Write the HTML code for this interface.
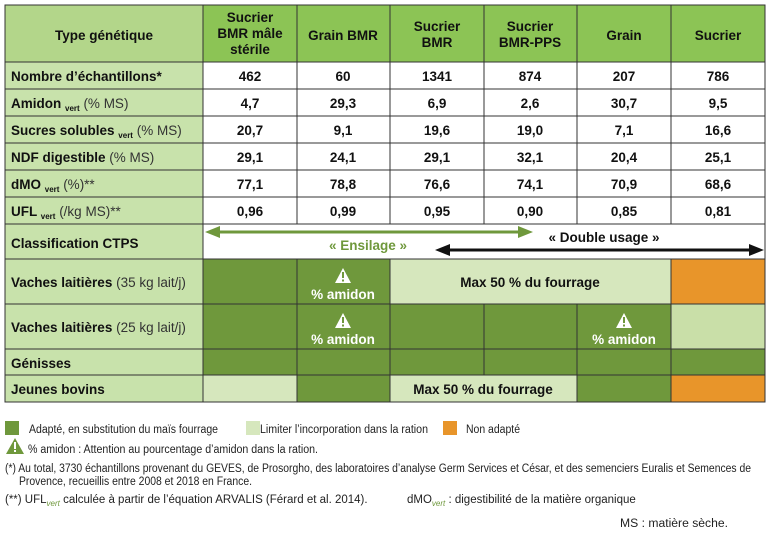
<!DOCTYPE html>
<html><head><meta charset="utf-8"><style>
body{margin:0;background:#fff;}
svg text{font-family:"Liberation Sans",sans-serif;}
.b{font-weight:bold;font-size:13.5px;fill:#111;}
.c{text-anchor:middle;}
.s{font-size:11.5px;fill:#222;}
</style></head><body>
<svg width="780" height="534" viewBox="0 0 780 534" xmlns="http://www.w3.org/2000/svg">
<rect x="5" y="5" width="198" height="57" fill="#b3d68a"/>
<rect x="203" y="5" width="562" height="57" fill="#8cc455"/>
<rect x="5" y="62" width="198" height="340" fill="#c8e2ab"/>
<rect x="203" y="62" width="562" height="197" fill="#fff"/>
<rect x="203" y="259" width="187" height="45" fill="#6f983c"/>
<rect x="390" y="259" width="281" height="45" fill="#d6e7bd"/>
<rect x="671" y="259" width="94" height="45" fill="#e8952a"/>
<rect x="203" y="304" width="468" height="45" fill="#6f983c"/>
<rect x="671" y="304" width="94" height="45" fill="#c9dfa8"/>
<rect x="203" y="349" width="562" height="26" fill="#6f983c"/>
<rect x="203" y="375" width="94" height="27" fill="#d6e7bd"/>
<rect x="297" y="375" width="93" height="27" fill="#6f983c"/>
<rect x="390" y="375" width="187" height="27" fill="#d6e7bd"/>
<rect x="577" y="375" width="94" height="27" fill="#6f983c"/>
<rect x="671" y="375" width="94" height="27" fill="#e8952a"/>
<g stroke="#333" stroke-width="1" fill="none">
<rect x="5" y="5" width="760" height="397"/>
<line x1="5" y1="62" x2="765" y2="62"/>
<line x1="5" y1="89" x2="765" y2="89"/>
<line x1="5" y1="116" x2="765" y2="116"/>
<line x1="5" y1="143" x2="765" y2="143"/>
<line x1="5" y1="170" x2="765" y2="170"/>
<line x1="5" y1="197" x2="765" y2="197"/>
<line x1="5" y1="224" x2="765" y2="224"/>
<line x1="5" y1="259" x2="765" y2="259"/>
<line x1="5" y1="304" x2="765" y2="304"/>
<line x1="5" y1="349" x2="765" y2="349"/>
<line x1="5" y1="375" x2="765" y2="375"/>
<line x1="203" y1="5" x2="203" y2="402"/>
<line x1="297" y1="5" x2="297" y2="224"/><line x1="297" y1="259" x2="297" y2="402"/>
<line x1="390" y1="5" x2="390" y2="224"/><line x1="390" y1="259" x2="390" y2="402"/>
<line x1="484" y1="5" x2="484" y2="224"/><line x1="484" y1="304" x2="484" y2="375"/>
<line x1="577" y1="5" x2="577" y2="224"/><line x1="577" y1="304" x2="577" y2="402"/>
<line x1="671" y1="5" x2="671" y2="224"/><line x1="671" y1="259" x2="671" y2="402"/>
</g>
<text class="b" x="104" y="40" text-anchor="middle">Type génétique</text>
<text class="b c" x="250" y="22">Sucrier</text><text class="b c" x="250" y="38">BMR mâle</text><text class="b c" x="250" y="54">stérile</text>
<text class="b c" x="343" y="40">Grain BMR</text>
<text class="b c" x="437" y="31">Sucrier</text><text class="b c" x="437" y="47">BMR</text>
<text class="b c" x="530" y="31">Sucrier</text><text class="b c" x="530" y="47">BMR-PPS</text>
<text class="b c" x="624" y="40">Grain</text>
<text class="b c" x="718" y="40">Sucrier</text>
<text class="b" x="11" y="81">Nombre d’échantillons*</text>
<text class="b" x="11" y="108">Amidon <tspan font-size="8" dy="3">vert</tspan><tspan font-weight="normal" fill="#333" dy="-3"> (% MS)</tspan></text>
<text class="b" x="11" y="135">Sucres solubles <tspan font-size="8" dy="3">vert</tspan><tspan font-weight="normal" fill="#333" dy="-3"> (% MS)</tspan></text>
<text class="b" x="11" y="162">NDF digestible <tspan font-weight="normal" fill="#333">(% MS)</tspan></text>
<text class="b" x="11" y="189">dMO <tspan font-size="8" dy="3">vert</tspan><tspan font-weight="normal" fill="#333" dy="-3">  (%)**</tspan></text>
<text class="b" x="11" y="216">UFL <tspan font-size="8" dy="3">vert</tspan><tspan font-weight="normal" fill="#333" dy="-3">  (/kg MS)**</tspan></text>
<text class="b" x="11" y="248">Classification CTPS</text>
<text class="b" x="11" y="287">Vaches laitières <tspan font-weight="normal" fill="#333">(35 kg lait/j)</tspan></text>
<text class="b" x="11" y="332">Vaches laitières <tspan font-weight="normal" fill="#333">(25 kg lait/j)</tspan></text>
<text class="b" x="11" y="368">Génisses</text>
<text class="b" x="11" y="394">Jeunes bovins</text>
<text class="b c" x="250" y="81">462</text><text class="b c" x="343" y="81">60</text><text class="b c" x="437" y="81">1341</text><text class="b c" x="530" y="81">874</text><text class="b c" x="624" y="81">207</text><text class="b c" x="718" y="81">786</text>
<text class="b c" x="250" y="108">4,7</text><text class="b c" x="343" y="108">29,3</text><text class="b c" x="437" y="108">6,9</text><text class="b c" x="530" y="108">2,6</text><text class="b c" x="624" y="108">30,7</text><text class="b c" x="718" y="108">9,5</text>
<text class="b c" x="250" y="135">20,7</text><text class="b c" x="343" y="135">9,1</text><text class="b c" x="437" y="135">19,6</text><text class="b c" x="530" y="135">19,0</text><text class="b c" x="624" y="135">7,1</text><text class="b c" x="718" y="135">16,6</text>
<text class="b c" x="250" y="162">29,1</text><text class="b c" x="343" y="162">24,1</text><text class="b c" x="437" y="162">29,1</text><text class="b c" x="530" y="162">32,1</text><text class="b c" x="624" y="162">20,4</text><text class="b c" x="718" y="162">25,1</text>
<text class="b c" x="250" y="189">77,1</text><text class="b c" x="343" y="189">78,8</text><text class="b c" x="437" y="189">76,6</text><text class="b c" x="530" y="189">74,1</text><text class="b c" x="624" y="189">70,9</text><text class="b c" x="718" y="189">68,6</text>
<text class="b c" x="250" y="216">0,96</text><text class="b c" x="343" y="216">0,99</text><text class="b c" x="437" y="216">0,95</text><text class="b c" x="530" y="216">0,90</text><text class="b c" x="624" y="216">0,85</text><text class="b c" x="718" y="216">0,81</text>
<line x1="214" y1="232" x2="522" y2="232" stroke="#6f983c" stroke-width="3"/>
<polygon points="205,232 220,226 220,238" fill="#6f983c"/>
<polygon points="533,232 518,226 518,238" fill="#6f983c"/>
<text class="b c" x="368" y="250" style="fill:#6f983c">« Ensilage »</text>
<line x1="444" y1="250" x2="754" y2="250" stroke="#111" stroke-width="3"/>
<polygon points="435,250 450,244 450,256" fill="#111"/>
<polygon points="764,250 749,244 749,256" fill="#111"/>
<text class="b c" x="604" y="242">« Double usage »</text>
<polygon points="343,268 335,283 351,283" fill="#fff"/><rect x="342" y="272" width="2" height="6" fill="#6f983c"/><rect x="342" y="279.5" width="2" height="2" fill="#6f983c"/>
<text class="b c" x="343" y="299" style="fill:#fff">% amidon</text>
<polygon points="343,313 335,328 351,328" fill="#fff"/><rect x="342" y="317" width="2" height="6" fill="#6f983c"/><rect x="342" y="324.5" width="2" height="2" fill="#6f983c"/>
<text class="b c" x="343" y="344" style="fill:#fff">% amidon</text>
<polygon points="624,313 616,328 632,328" fill="#fff"/><rect x="623" y="317" width="2" height="6" fill="#6f983c"/><rect x="623" y="324.5" width="2" height="2" fill="#6f983c"/>
<text class="b c" x="624" y="344" style="fill:#fff">% amidon</text>
<text class="b c" x="530" y="287">Max 50 % du fourrage</text>
<text class="b c" x="483" y="394">Max 50 % du fourrage</text>
<rect x="5" y="421" width="14" height="14" fill="#6f983c"/>
<text class="s" x="29" y="433" textLength="189" lengthAdjust="spacingAndGlyphs">Adapté, en substitution du maïs fourrage</text>
<rect x="246" y="421" width="14" height="14" fill="#d6e7bd"/>
<text class="s" x="260" y="433" textLength="168" lengthAdjust="spacingAndGlyphs">Limiter l’incorporation dans la ration</text>
<rect x="443" y="421" width="14" height="14" fill="#e8952a"/>
<text class="s" x="466" y="433" textLength="54" lengthAdjust="spacingAndGlyphs">Non adapté</text>
<polygon points="15,438 6,454 24,454" fill="#6f983c"/><rect x="14" y="442" width="2" height="7" fill="#fff"/><rect x="14" y="450" width="2" height="2" fill="#fff"/>
<text class="s" x="28" y="453" textLength="290" lengthAdjust="spacingAndGlyphs">% amidon : Attention au pourcentage d’amidon dans la ration.</text>
<text class="s" x="5" y="472" textLength="746" lengthAdjust="spacingAndGlyphs">(*) Au total, 3730 échantillons provenant du GEVES, de Prosorgho, des laboratoires d’analyse Germ Services et César, et des semenciers Euralis et Semences de</text>
<text class="s" x="19" y="485" textLength="233" lengthAdjust="spacingAndGlyphs">Provence, recueillis entre 2008 et 2018 en France.</text>
<text class="s" x="5" y="503">(**) UFL<tspan font-size="8" dy="3" fill="#6f983c" font-style="italic">vert</tspan><tspan dy="-3"> calculée à partir de l’équation ARVALIS (Férard et al. 2014).</tspan></text>
<text class="s" x="407" y="503">dMO<tspan font-size="8" dy="3" fill="#6f983c" font-style="italic">vert</tspan><tspan dy="-3"> : digestibilité de la matière organique</tspan></text>
<text class="s" x="620" y="527" textLength="108" lengthAdjust="spacingAndGlyphs">MS : matière sèche.</text>
</svg>
</body></html>
